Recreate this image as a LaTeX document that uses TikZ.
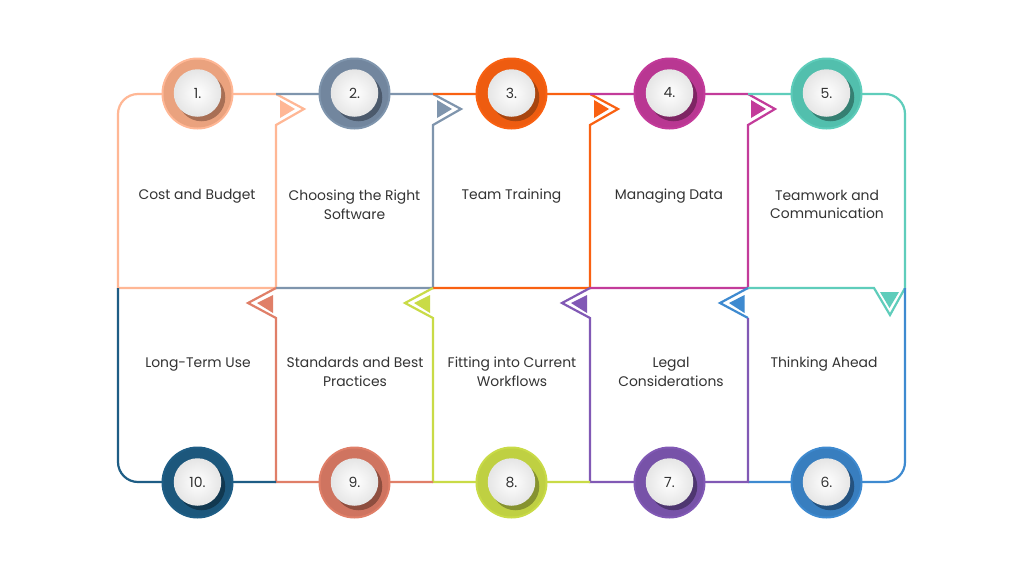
\documentclass[tikz,border=0pt]{standalone}
\usepackage{fontspec}
\setmainfont{Poppins}
\definecolor{txt}{HTML}{333333}
\definecolor{aA}{HTML}{FFB795}\definecolor{aB}{HTML}{EAA27E}\definecolor{aC}{HTML}{A86F55}
\definecolor{bA}{HTML}{7F95AD}\definecolor{bB}{HTML}{72869E}\definecolor{bC}{HTML}{4C5A6C}
\definecolor{cA}{HTML}{F96112}\definecolor{cB}{HTML}{EE5C10}\definecolor{cC}{HTML}{A8450F}
\definecolor{dA}{HTML}{C33B9A}\definecolor{dB}{HTML}{B93792}\definecolor{dC}{HTML}{7E2563}
\definecolor{eA}{HTML}{5FCDBB}\definecolor{eB}{HTML}{52BFAD}\definecolor{eC}{HTML}{357F72}
\definecolor{fA}{HTML}{3E8AD0}\definecolor{fB}{HTML}{387EBF}\definecolor{fC}{HTML}{24527F}
\definecolor{gA}{HTML}{8159B5}\definecolor{gB}{HTML}{7752A8}\definecolor{gC}{HTML}{4E3670}
\definecolor{hA}{HTML}{C9DB47}\definecolor{hB}{HTML}{BFD042}\definecolor{hC}{HTML}{869230}
\definecolor{iA}{HTML}{E07F68}\definecolor{iB}{HTML}{CF7460}\definecolor{iC}{HTML}{8E4E3F}
\definecolor{jA}{HTML}{1E5D85}\definecolor{jB}{HTML}{1C577C}\definecolor{jC}{HTML}{113850}
\tikzset{
  edge/.style={line width=2.2pt,line join=miter},
  disc/.style={circle,inner sep=0pt,outer sep=0pt,minimum size=#1},
  face/.style={disc=47.5pt,inner color=white,outer color=black!10,text=txt,font=\fontsize{14}{15}\selectfont},
  label/.style={align=center,text=txt,font=\fontsize{13.9}{18.7}\selectfont,inner sep=0pt}
}
% #1 name, #2 x, #3 y, #4 colour prefix, #5 text
\newcommand{\badge}[5]{%
  \node[disc=72pt,fill=#4A] (#1o) at (#2,#3) {};
  \node[disc=68pt,fill=#4B] (#1r) at (#2,#3) {};
  \node[disc=47.5pt,fill=#4C] (#1s) at (#2+4,#3+4) {};
  \node[face] (#1) at (#2,#3-0.5) {\raisebox{-1pt}{#5}};
}
\begin{document}
\begin{tikzpicture}[x=1pt,y=-1pt]
\useasboundingbox[fill=white] (0,0) rectangle (1024,576);
% upper row
\draw[edge,aA] (276,288) -- (118,288) -- (118,114) arc[start angle=180,end angle=270,radius=20] -- (276,94) -- (304,109) -- (276,125) -- cycle;
\draw[edge,bA] (276,288) -- (433,288) -- (433,125) -- (461,109) -- (433,94) -- (276,94);
\draw[edge,cA] (433,288) -- (590,288) -- (590,125) -- (618,109) -- (590,94) -- (433,94);
\draw[edge,dA] (590,288) -- (748,288) -- (748,125) -- (775,109) -- (748,94) -- (590,94);
\draw[edge,eA] (748,94) -- (885,94) arc[start angle=-90,end angle=0,radius=20] -- (905,288) -- (890,315) -- (874,288) -- (748,288);
% lower row
\draw[edge,fA] (905,288) -- (905,462) arc[start angle=0,end angle=90,radius=20] -- (748,482);
\draw[edge,fA] (748,288) -- (720,303) -- (748,318);
\draw[edge,gA] (748,318) -- (748,482) -- (590,482) -- (590,318) -- (562,303) -- (590,288);
\draw[edge,hA] (590,482) -- (433,482) -- (433,318) -- (405,303) -- (433,288);
\draw[edge,iA] (433,482) -- (276,482) -- (276,318) -- (248,303) -- (276,288);
\draw[edge,jA] (276,482) -- (138,482) arc[start angle=90,end angle=180,radius=20] -- (118,288);
% arrow cores
\fill[aA] (280,100) -- (295,109) -- (280,118) -- cycle;
\fill[bA] (437,100) -- (452,109) -- (437,118) -- cycle;
\fill[cA] (594,100) -- (609,109) -- (594,118) -- cycle;
\fill[dA] (751,100) -- (766,109) -- (751,118) -- cycle;
\fill[eA] (880,292) -- (899,292) -- (889.5,308) -- cycle;
\fill[fA] (744.5,295) -- (729,303) -- (744.5,313) -- cycle;
\fill[gA] (587,295) -- (571,303) -- (587,313) -- cycle;
\fill[hA] (430,295) -- (414,303) -- (430,313) -- cycle;
\fill[iA] (273,295) -- (257,303) -- (273,313) -- cycle;
% badges
\badge{nA}{197.5}{93.5}{a}{1.}
\badge{nB}{354.5}{93.5}{b}{2.}
\badge{nC}{511.5}{93.5}{c}{3.}
\badge{nD}{669.5}{93.5}{d}{4.}
\badge{nE}{826.5}{93.5}{e}{5.}
\badge{nF}{826.5}{482.5}{f}{6.}
\badge{nG}{669.5}{482.5}{g}{7.}
\badge{nH}{511.5}{482.5}{h}{8.}
\badge{nI}{354.5}{482.5}{i}{9.}
\badge{nJ}{197.5}{482.5}{j}{10.}
% labels
\node[label] (tA) at (197,196) {Cost and Budget};
\node[label] (tB) at (354.5,204.5) {Choosing the Right\\Software};
\node[label] (tC) at (511.5,196) {Team Training};
\node[label] (tD) at (669,196) {Managing Data};
\node[label] (tE) at (827,204.5) {Teamwork and\\Communication};
\node[label] (tF) at (824,364) {Thinking Ahead};
\node[label] (tG) at (671,372) {Legal\\Considerations};
\node[label] (tH) at (512,372) {Fitting into Current\\Workflows};
\node[label] (tI) at (355,372) {Standards and Best\\Practices};
\node[label] (tJ) at (198,364.5) {Long-Term Use};
\end{tikzpicture}
\end{document}
